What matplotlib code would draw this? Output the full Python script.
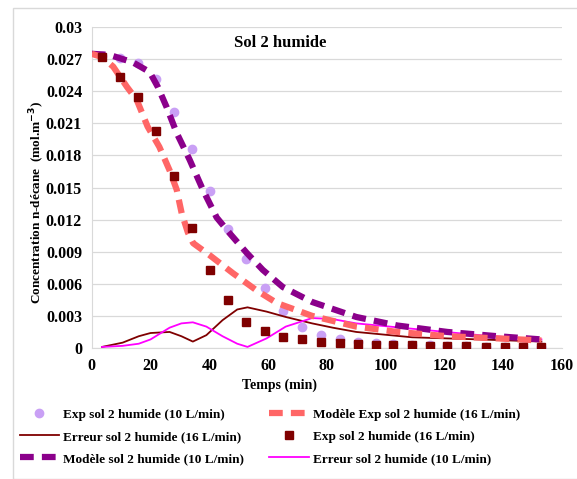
import matplotlib
matplotlib.use('Agg')
import matplotlib.pyplot as plt
from matplotlib.patches import Rectangle

plt.rcParams['font.family'] = ['Liberation Serif', 'DejaVu Serif']
plt.rcParams['font.weight'] = 'bold'

# sampling times (min)
t_exp = [3.5, 9.5, 15.6, 21.7, 27.9, 34, 40.2, 46.5, 52.6, 58.8, 65, 71.5, 78,
         84.3, 90.5, 96.6, 102.5, 108.8, 115, 121, 127.5, 134, 140.7, 146.7, 153]

exp_10 = [0.0273, 0.0271, 0.0266, 0.0251, 0.0221, 0.0186, 0.0147, 0.0111, 0.0083,
          0.0056, 0.0035, 0.0020, 0.0012, 0.0008, 0.0006, 0.0005, 0.0004, 0.0003,
          0.0003, 0.0002, 0.0002, 0.0001, 0.0001, 0.0001, 0.0001]
exp_16 = [0.0272, 0.0253, 0.0235, 0.0203, 0.0161, 0.0112, 0.0073, 0.0045, 0.0024,
          0.0016, 0.0010, 0.0008, 0.0006, 0.0005, 0.0004, 0.0003, 0.0003, 0.0003,
          0.0002, 0.0002, 0.0002, 0.0001, 0.0001, 0.0001, 0.0001]

t_mod16 = [0, 3.5, 7.3, 12, 15.3, 19, 23, 26.5, 28.9, 30.6, 32.7, 34.5, 40, 48,
           56, 63, 70, 75, 90, 104, 121, 138, 153]
mod_16 = [0.0275, 0.0272, 0.0263, 0.0244, 0.0232, 0.0207, 0.0188, 0.0166, 0.0148,
          0.0126, 0.0108, 0.0098, 0.0087, 0.0070, 0.0054, 0.0042, 0.0035, 0.0030,
          0.0020, 0.0015, 0.0011, 0.0009, 0.0007]

t_mod10 = [0, 6, 14, 19.7, 22.5, 25.5, 28.9, 33.3, 37.8, 42.5, 47, 52.7, 58.2,
           65, 70.7, 75, 90, 104, 121, 138, 153]
mod_10 = [0.0275, 0.0274, 0.0267, 0.0258, 0.0244, 0.0225, 0.0201, 0.0176, 0.0148,
          0.0122, 0.0107, 0.0089, 0.0073, 0.0057, 0.0049, 0.0043, 0.0029, 0.0021,
          0.0015, 0.0011, 0.0008]

t_err = [3.5, 10.5, 16, 20, 26.5, 30.5, 34.4, 39, 44.5, 49.5, 53, 59.5, 66, 75,
         82, 90, 109, 132, 153]
err_16 = [0.0001, 0.0005, 0.0011, 0.0014, 0.0015, 0.0011, 0.0006, 0.0012, 0.0026,
          0.0036, 0.0038, 0.0034, 0.0029, 0.0023, 0.0019, 0.0015, 0.0010, 0.0008,
          0.0006]
err_10 = [0.0001, 0.0002, 0.0004, 0.0008, 0.0019, 0.0023, 0.0024, 0.0020, 0.0011,
          0.0004, 0.0001, 0.0009, 0.0020, 0.0028, 0.0027, 0.0023, 0.0018, 0.0012,
          0.0008]

y_ticks = [0, 0.003, 0.006, 0.009, 0.012, 0.015, 0.018, 0.021, 0.024, 0.027, 0.03]
y_labels = ['0', '0.003', '0.006', '0.009', '0.012', '0.015', '0.018', '0.021',
            '0.024', '0.027', '0.03']

fig = plt.figure(figsize=(5.77, 4.79), dpi=100)
fig.patches.append(Rectangle((13 / 577, 0), 1, 1 - 8 / 479, transform=fig.transFigure,
                             fill=False, edgecolor='#d9d9d9', linewidth=1))
ax = fig.add_axes([0.159, 0.2735, 0.815, 0.67])

h_exp10, = ax.plot(t_exp, exp_10, 'o', color='#c9a0f5', markersize=6,
                   label='Exp sol 2 humide (10 L/min)', zorder=3)
h_err16, = ax.plot(t_err, err_16, '-', color='#7f0000', linewidth=1.3,
                   label='Erreur sol 2 humide (16 L/min)', zorder=4)
h_mod10, = ax.plot(t_mod10, mod_10, '--', color='#8b008b', linewidth=4.5,
                   dashes=(2.2, 1.3), label='Modèle sol 2 humide (10 L/min)', zorder=5)
h_mod16, = ax.plot(t_mod16, mod_16, '--', color='#ff6666', linewidth=4.5,
                   dashes=(2.2, 1.3), label='Modèle Exp sol 2 humide (16 L/min)', zorder=5)
h_exp16, = ax.plot(t_exp, exp_16, 's', color='#7f0000', markersize=6,
                   label='Exp sol 2 humide (16 L/min)', zorder=6)
h_err10, = ax.plot(t_err, err_10, '-', color='#ff00ff', linewidth=1.3,
                   label='Erreur sol 2 humide (10 L/min)', zorder=4)

ax.set_xlim(0, 160)
ax.set_ylim(0, 0.03)
ax.set_xticks([0, 20, 40, 60, 80, 100, 120, 140, 160])
ax.set_yticks(y_ticks)
ax.set_yticklabels(y_labels)
ax.tick_params(length=0, labelsize=11.5, pad=7)
for lab in ax.get_xticklabels() + ax.get_yticklabels():
    lab.set_fontweight('bold')
ax.grid(axis='y', color='#d9d9d9', linewidth=0.9)
ax.set_axisbelow(True)
for s in ['top', 'right']:
    ax.spines[s].set_visible(False)
for s in ['left', 'bottom']:
    ax.spines[s].set_color('#d9d9d9')

ax.text(64, 0.0285, 'Sol 2 humide', ha='center', va='center', fontsize=12,
        fontweight='bold')
ax.set_xlabel('Temps (min)', fontsize=10, fontweight='bold')
ax.xaxis.set_label_coords(0.40, -0.095)
ax.set_ylabel('Concentration n-décane  (mol.m$^{\\mathbf{-3}}$)', fontsize=9.5,
              fontweight='bold')
ax.yaxis.set_label_coords(-0.095, 0.455)

fig.legend(handles=[h_exp10, h_err16, h_mod10, h_mod16, h_exp16, h_err10],
           loc='upper left', bbox_to_anchor=(0.025, 0.158), ncol=2, frameon=False,
           fontsize=9.5, handlelength=3, handletextpad=0.3, columnspacing=1.9,
           labelspacing=0.75, borderaxespad=0)

fig.savefig('out.png', dpi=100)
